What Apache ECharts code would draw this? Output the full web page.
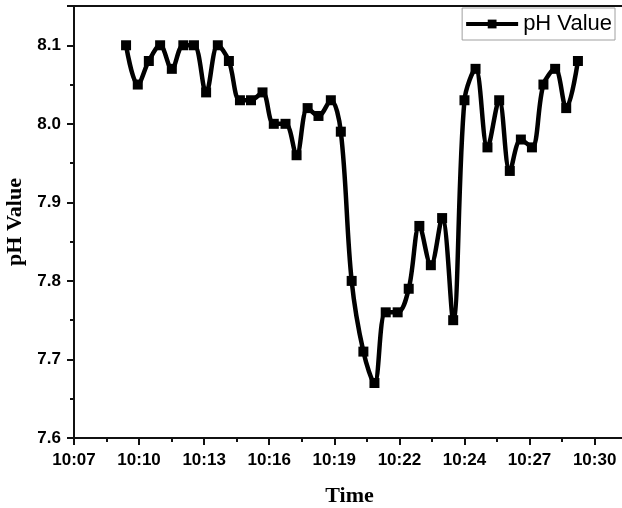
<!DOCTYPE html>
<html>
<head>
<meta charset="utf-8">
<script src="https://cdn.jsdelivr.net/npm/echarts@6/dist/echarts.min.js"></script>
<style>
  html, body { margin: 0; padding: 0; background: #fff; }
  #chart { width: 622px; height: 508px; }
</style>
</head>
<body>
<div id="chart"></div>
<script>
// Sample times, in minutes after 10:07
var sampleMinutes = [2.40, 2.94, 3.45, 3.97, 4.51, 5.04, 5.53, 6.09, 6.63, 7.14,
  7.65, 8.16, 8.69, 9.21, 9.75, 10.26, 10.77, 11.27, 11.84, 12.30,
  12.80, 13.34, 13.85, 14.37, 14.92, 15.43, 15.92, 16.45, 16.97, 17.48,
  18.00, 18.51, 19.06, 19.60, 20.09, 20.60, 21.11, 21.64, 22.18, 22.69, 23.23];

// Measured pH at each sample
var phValues = [8.10, 8.05, 8.08, 8.10, 8.07, 8.10, 8.10, 8.04, 8.10, 8.08,
  8.03, 8.03, 8.04, 8.00, 8.00, 7.96, 8.02, 8.01, 8.03, 7.99,
  7.80, 7.71, 7.67, 7.76, 7.76, 7.79, 7.87, 7.82, 7.88, 7.75,
  8.03, 8.07, 7.97, 8.03, 7.94, 7.98, 7.97, 8.05, 8.07, 8.02, 8.08];

// Labels for the major time ticks (one every 3 axis units)
var timeTickLabels = ['10:07', '10:10', '10:13', '10:16', '10:19', '10:22', '10:24', '10:27', '10:30'];

var points = sampleMinutes.map(function (t, i) { return [t, phValues[i]]; });

var chart = echarts.init(document.getElementById('chart'), null, { renderer: 'canvas' });

var tickFont = { color: '#000', fontFamily: 'Liberation Sans, Arial, sans-serif', fontWeight: 'bold', fontSize: 17 };
var titleFont = { color: '#000', fontFamily: 'Liberation Serif, Times New Roman, serif', fontWeight: 'bold', fontSize: 22 };

chart.setOption({
  animation: false,
  backgroundColor: '#fff',
  grid: {
    left: 74, top: 6, right: -3, bottom: 70,
    containLabel: false,
    outerBoundsMode: 'none',
    show: true, borderColor: '#111', borderWidth: 2, backgroundColor: 'transparent'
  },
  legend: {
    data: ['pH Value'],
    right: 7, top: 8,
    orient: 'horizontal',
    borderColor: '#a0a0a0', borderWidth: 1, borderRadius: 0,
    padding: [5, 3, 5, 2],
    itemWidth: 52, itemHeight: 11,
    lineStyle: { width: 4, color: '#000' },
    textStyle: { color: '#000', fontFamily: 'Liberation Sans, Arial, sans-serif', fontSize: 22 }
  },
  xAxis: {
    type: 'value',
    min: 0, max: 25.4, interval: 3,
    name: 'Time', nameLocation: 'middle', nameGap: 47,
    nameTextStyle: titleFont,
    axisLine: { show: true, lineStyle: { color: '#111', width: 2 } },
    axisTick: { show: true, inside: false, length: 7, lineStyle: { color: '#111', width: 2 } },
    minorTick: { show: true, splitNumber: 2, length: 4, lineStyle: { color: '#111', width: 2 } },
    splitLine: { show: false },
    axisLabel: Object.assign({
      margin: 14,
      showMaxLabel: false,
      formatter: function (v) {
        var k = Math.round(v / 3);
        return Math.abs(v - k * 3) < 1e-6 && timeTickLabels[k] !== undefined ? timeTickLabels[k] : '';
      }
    }, tickFont)
  },
  yAxis: {
    type: 'value',
    min: 7.6, max: 8.15, interval: 0.1,
    name: 'pH Value', nameLocation: 'middle', nameGap: 42, nameRotate: 90,
    nameTextStyle: titleFont,
    axisLine: { show: true, lineStyle: { color: '#111', width: 2 } },
    axisTick: { show: true, inside: false, length: 7, lineStyle: { color: '#111', width: 2 } },
    minorTick: { show: true, splitNumber: 2, length: 4, lineStyle: { color: '#111', width: 2 } },
    splitLine: { show: false },
    axisLabel: Object.assign({
      margin: 13,
      showMaxLabel: false,
      formatter: function (v) { return v.toFixed(1); }
    }, tickFont)
  },
  series: [{
    name: 'pH Value',
    type: 'line',
    data: points,
    smooth: 0.35,
    symbol: 'rect',
    symbolSize: 10,
    lineStyle: { color: '#000', width: 4.5 },
    itemStyle: { color: '#000' },
    z: 3
  }]
});
</script>
</body>
</html>
